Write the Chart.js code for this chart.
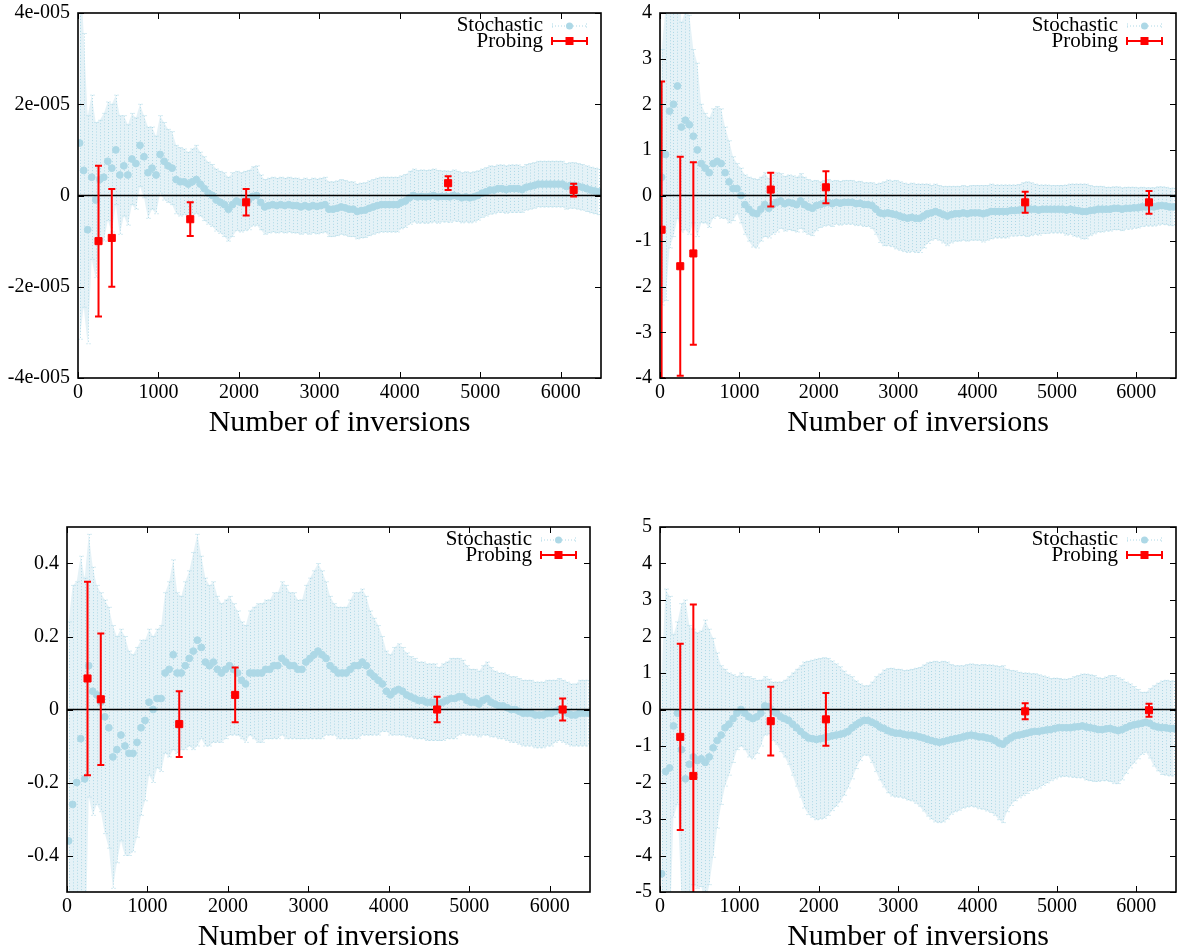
<!DOCTYPE html>
<html><head><meta charset="utf-8">
<script src="https://cdn.jsdelivr.net/npm/chart.js@4.4.0/dist/chart.umd.min.js"></script>
<style>
html,body{margin:0;padding:0;background:#fff;width:1182px;height:949px;overflow:hidden;position:relative}
.p{position:absolute}
canvas{display:block}
</style></head><body>
<div class="p" style="left:0;top:0"><canvas id="c1" width="610" height="438"></canvas></div>
<div class="p" style="left:590px;top:0"><canvas id="c2" width="592" height="438"></canvas></div>
<div class="p" style="left:0;top:500px"><canvas id="c3" width="600" height="452"></canvas></div>
<div class="p" style="left:590px;top:500px"><canvas id="c4" width="592" height="452"></canvas></div>
<script>
// ---------------- data ----------------
const xTicks = [0, 1000, 2000, 3000, 4000, 5000, 6000];
const xTickLabels = ['0', '1000', '2000', '3000', '4000', '5000', '6000'];
const xTitle = 'Number of inversions';
const seriesNames = ['Stochastic', 'Probing'];

// stochastic estimate: number of inversions at which each estimate was taken
const stochX = [
  20, 70, 120, 170, 220, 270, 320, 370, 420, 470,
  520, 570, 620, 670, 720, 770, 820, 870, 920, 970,
  1020, 1070, 1120, 1170, 1220, 1270, 1320, 1370, 1420, 1470,
  1520, 1570, 1620, 1670, 1720, 1770, 1820, 1870, 1920, 1970,
  2020, 2070, 2120, 2170, 2220, 2270, 2320, 2370, 2420, 2470,
  2520, 2570, 2620, 2670, 2720, 2770, 2820, 2870, 2920, 2970,
  3020, 3070, 3120, 3170, 3220, 3270, 3320, 3370, 3420, 3470,
  3520, 3570, 3620, 3670, 3720, 3770, 3820, 3870, 3920, 3970,
  4020, 4070, 4120, 4170, 4220, 4270, 4320, 4370, 4420, 4470,
  4520, 4570, 4620, 4670, 4720, 4770, 4820, 4870, 4920, 4970,
  5020, 5070, 5120, 5170, 5220, 5270, 5320, 5370, 5420, 5470,
  5520, 5570, 5620, 5670, 5720, 5770, 5820, 5870, 5920, 5970,
  6020, 6070, 6120, 6170, 6220, 6270, 6320, 6370, 6420, 6470
];
// probing estimates
const probX = [20, 255, 420, 1395, 2090, 4600, 6160];

// ---- panel 1 (values in units of 1e-5) ----
const p1Mean = [
  1.15, 0.55, -0.75, 0.4, -0.1, 0.35, 0.4, 0.75, 0.6, 1.0,
  0.45, 0.65, 0.45, 0.8, 0.7, 1.1, 0.85, 0.5, 0.6, 0.45,
  0.9, 0.75, 0.65, 0.6, 0.35, 0.3, 0.3, 0.25, 0.3, 0.35,
  0.25, 0.15, 0.05, 0.0, -0.1, -0.15, -0.2, -0.3, -0.2, -0.12,
  -0.15, -0.12, -0.1, -0.02, 0.0, -0.15, -0.25, -0.22, -0.2, -0.22,
  -0.2, -0.22, -0.2, -0.22, -0.22, -0.25, -0.22, -0.25, -0.22, -0.24,
  -0.22, -0.2, -0.3, -0.3, -0.28, -0.25, -0.27, -0.3, -0.3, -0.35,
  -0.33, -0.32, -0.28, -0.25, -0.22, -0.2, -0.2, -0.2, -0.2, -0.2,
  -0.15, -0.12, -0.05, 0.0, -0.03, -0.02, -0.03, -0.02, 0.0, -0.03,
  -0.02, -0.02, -0.03, 0.0, -0.02, -0.05, -0.03, -0.05, -0.03, 0.0,
  0.05, 0.08, 0.12, 0.12, 0.15, 0.15, 0.13, 0.15, 0.15, 0.15,
  0.13, 0.18, 0.2, 0.22, 0.25, 0.25, 0.25, 0.25, 0.25, 0.25,
  0.25, 0.2, 0.22, 0.22, 0.2, 0.18, 0.15, 0.12, 0.1, 0.08
];
const p1Err = [
  4.3, 3.0, 2.5, 1.8, 1.7, 1.3, 1.4, 1.3, 1.4, 1.2,
  1.3, 1.1, 1.1, 1.0, 1.0, 0.9, 0.9, 1.0, 0.9, 0.85,
  0.85, 0.85, 0.8, 0.8, 0.75, 0.75, 0.72, 0.7, 0.72, 0.75,
  0.7, 0.7, 0.68, 0.68, 0.68, 0.68, 0.7, 0.7, 0.7, 0.65,
  0.65, 0.65, 0.65, 0.65, 0.65, 0.6, 0.6, 0.6, 0.6, 0.6,
  0.6, 0.6, 0.6, 0.6, 0.6, 0.6, 0.6, 0.6, 0.6, 0.6,
  0.6, 0.6, 0.6, 0.6, 0.6, 0.6, 0.6, 0.6, 0.6, 0.6,
  0.6, 0.6, 0.6, 0.6, 0.6, 0.6, 0.6, 0.6, 0.6, 0.6,
  0.58, 0.58, 0.58, 0.58, 0.58, 0.58, 0.58, 0.58, 0.58, 0.58,
  0.56, 0.56, 0.56, 0.56, 0.55, 0.55, 0.55, 0.55, 0.55, 0.54,
  0.53, 0.53, 0.53, 0.52, 0.52, 0.52, 0.52, 0.52, 0.52, 0.52,
  0.5, 0.5, 0.5, 0.5, 0.5, 0.5, 0.5, 0.5, 0.5, 0.5,
  0.5, 0.5, 0.5, 0.5, 0.5, 0.5, 0.5, 0.5, 0.5, 0.5
];
const p1ProbMean = [null, -1.0, -0.93, -0.52, -0.15, 0.27, 0.12];
const p1ProbErr = [null, 1.65, 1.07, 0.37, 0.29, 0.15, 0.14];
const p1YTicks = [-4, -2, 0, 2, 4];
const p1YTickLabels = ['-4e-005', '-2e-005', '0', '2e-005', '4e-005'];

// ---- panel 2 ----
const p2Mean = [
  0.4, 0.9, 1.85, 2.0, 2.4, 1.5, 1.65, 1.55, 1.3, 1.0,
  0.7, 0.6, 0.5, 0.7, 0.75, 0.7, 0.5, 0.3, 0.15, 0.15,
  0.0, -0.2, -0.3, -0.38, -0.4, -0.3, -0.2, -0.28, -0.2, -0.15,
  -0.12, -0.18, -0.15, -0.17, -0.2, -0.12, -0.2, -0.25, -0.28, -0.22,
  -0.2, -0.17, -0.15, -0.18, -0.15, -0.17, -0.15, -0.15, -0.15, -0.18,
  -0.17, -0.2, -0.2, -0.22, -0.3, -0.38, -0.4, -0.38, -0.4, -0.42,
  -0.45, -0.48, -0.5, -0.48, -0.5, -0.5, -0.45, -0.4, -0.38, -0.35,
  -0.38, -0.42, -0.45, -0.42, -0.4, -0.4, -0.38, -0.4, -0.38, -0.38,
  -0.38, -0.4, -0.38, -0.35, -0.35, -0.35, -0.35, -0.35, -0.33, -0.33,
  -0.32, -0.3, -0.3, -0.3, -0.3, -0.32, -0.3, -0.3, -0.3, -0.3,
  -0.3, -0.3, -0.32, -0.3, -0.32, -0.33, -0.35, -0.35, -0.33, -0.32,
  -0.3, -0.3, -0.3, -0.3, -0.28, -0.28, -0.3, -0.28, -0.28, -0.27,
  -0.27, -0.25, -0.25, -0.25, -0.25, -0.23, -0.22, -0.23, -0.25, -0.25
];
const p2Err = [
  2.8, 3.2, 3.0, 2.9, 2.9, 2.3, 2.4, 2.4, 1.9, 1.9,
  1.3, 1.2, 1.2, 1.2, 1.2, 1.2, 1.0, 0.9, 0.7, 0.55,
  0.6, 0.65, 0.7, 0.75, 0.75, 0.7, 0.7, 0.65, 0.65, 0.65,
  0.6, 0.6, 0.6, 0.6, 0.6, 0.6, 0.6, 0.6, 0.6, 0.55,
  0.5, 0.5, 0.5, 0.5, 0.48, 0.48, 0.48, 0.48, 0.48, 0.48,
  0.48, 0.48, 0.48, 0.5, 0.55, 0.65, 0.7, 0.72, 0.72, 0.75,
  0.75, 0.75, 0.75, 0.75, 0.75, 0.75, 0.7, 0.65, 0.6, 0.6,
  0.6, 0.62, 0.65, 0.62, 0.6, 0.6, 0.6, 0.6, 0.6, 0.6,
  0.6, 0.62, 0.6, 0.6, 0.58, 0.58, 0.58, 0.58, 0.56, 0.56,
  0.56, 0.58, 0.6, 0.58, 0.55, 0.55, 0.53, 0.53, 0.52, 0.52,
  0.52, 0.52, 0.55, 0.55, 0.57, 0.58, 0.6, 0.6, 0.55, 0.52,
  0.5, 0.5, 0.48, 0.48, 0.47, 0.47, 0.47, 0.46, 0.46, 0.45,
  0.44, 0.43, 0.42, 0.42, 0.42, 0.42, 0.41, 0.41, 0.41, 0.41
];
const p2ProbMean = [-0.75, -1.55, -1.27, 0.13, 0.18, -0.15, -0.15];
const p2ProbErr = [3.25, 2.4, 2.0, 0.37, 0.35, 0.23, 0.25];
const p2YTicks = [-4, -3, -2, -1, 0, 1, 2, 3, 4];
const p2YTickLabels = ['-4', '-3', '-2', '-1', '0', '1', '2', '3', '4'];

// ---- panel 3 ----
const p3Mean = [
  -0.36, -0.26, -0.2, -0.08, -0.19, 0.12, 0.05, 0.04, 0.02, -0.02,
  -0.05, -0.13, -0.11, -0.07, -0.1, -0.12, -0.12, -0.09, -0.05, -0.03,
  0.02, 0.0, 0.03, 0.03, 0.1, 0.11, 0.15, 0.1, 0.1, 0.12,
  0.14, 0.16, 0.19, 0.17, 0.13, 0.12, 0.13, 0.11, 0.1, 0.11,
  0.12, 0.11, 0.1, 0.08, 0.07, 0.1, 0.1, 0.1, 0.1, 0.11,
  0.11, 0.12, 0.12, 0.14, 0.13, 0.12, 0.12, 0.11, 0.11, 0.13,
  0.14, 0.15, 0.16, 0.15, 0.14, 0.12, 0.11, 0.1, 0.1, 0.1,
  0.11, 0.12, 0.12, 0.13, 0.12, 0.1, 0.09, 0.08, 0.07, 0.05,
  0.04, 0.05, 0.055, 0.05, 0.04, 0.035, 0.03, 0.025, 0.025, 0.02,
  0.02, 0.02, 0.015, 0.02, 0.025, 0.03, 0.03, 0.035, 0.035, 0.025,
  0.02, 0.02, 0.015, 0.025, 0.03, 0.02, 0.015, 0.01, 0.01, 0.005,
  0.0, 0.0, -0.005, -0.01, -0.01, -0.01, -0.015, -0.015, -0.015, -0.01,
  -0.01, -0.005, 0.0, -0.005, -0.01, -0.015, -0.015, -0.01, -0.01, -0.01
];
const p3Err = [
  0.6, 0.6, 0.55, 0.5, 0.55, 0.36, 0.34, 0.3, 0.3, 0.32,
  0.33, 0.36, 0.31, 0.29, 0.3, 0.28, 0.27, 0.26, 0.24, 0.22,
  0.2, 0.2, 0.19, 0.2, 0.22, 0.24, 0.26, 0.22, 0.21, 0.23,
  0.24, 0.27, 0.29, 0.25, 0.23, 0.22, 0.22, 0.2, 0.19, 0.19,
  0.19, 0.18, 0.17, 0.16, 0.16, 0.17, 0.18, 0.19, 0.19, 0.19,
  0.19, 0.2, 0.2, 0.21, 0.21, 0.2, 0.2, 0.19, 0.19, 0.21,
  0.22, 0.23, 0.24, 0.23, 0.21, 0.19, 0.18, 0.18, 0.18, 0.18,
  0.19, 0.2, 0.2, 0.2, 0.19, 0.17, 0.16, 0.15, 0.13, 0.11,
  0.11, 0.12, 0.125, 0.12, 0.115, 0.11, 0.11, 0.105, 0.105, 0.105,
  0.105, 0.105, 0.1, 0.105, 0.105, 0.11, 0.11, 0.105, 0.1, 0.095,
  0.09, 0.09, 0.09, 0.095, 0.1, 0.095, 0.09, 0.09, 0.09, 0.09,
  0.09, 0.09, 0.09, 0.09, 0.09, 0.09, 0.09, 0.09, 0.09, 0.09,
  0.09, 0.085, 0.085, 0.085, 0.085, 0.085, 0.085, 0.09, 0.09, 0.09
];
const p3ProbMean = [null, 0.085, 0.028, -0.04, 0.04, 0.0, 0.0];
const p3ProbErr = [null, 0.265, 0.18, 0.09, 0.075, 0.035, 0.03];
const p3YTicks = [-0.4, -0.2, 0, 0.2, 0.4];
const p3YTickLabels = ['-0.4', '-0.2', '0', '0.2', '0.4'];

// ---- panel 4 ----
const p4Mean = [
  -4.5, -1.7, -1.6, -0.45, -0.1, -1.1, -1.9, -1.5, -1.3, -1.4,
  -1.35, -1.45, -1.3, -1.05, -0.85, -0.7, -0.5, -0.4, -0.25, -0.1,
  0.0, -0.1, -0.2, -0.25, -0.2, -0.1, 0.1, 0.08, -0.05, -0.1,
  -0.2, -0.25, -0.3, -0.4, -0.5, -0.6, -0.7, -0.78, -0.8, -0.82,
  -0.8, -0.78, -0.75, -0.72, -0.7, -0.68, -0.65, -0.6, -0.5, -0.42,
  -0.35, -0.3, -0.3, -0.35, -0.4, -0.48, -0.52, -0.58, -0.62, -0.65,
  -0.65, -0.68, -0.7, -0.7, -0.72, -0.75, -0.78, -0.82, -0.85, -0.88,
  -0.9, -0.88, -0.85, -0.82, -0.8, -0.78, -0.75, -0.72, -0.7, -0.72,
  -0.75, -0.75, -0.78, -0.8, -0.85, -0.92, -0.95, -0.85, -0.78, -0.72,
  -0.7, -0.68, -0.65, -0.62, -0.6, -0.6, -0.58, -0.56, -0.55, -0.52,
  -0.5, -0.5, -0.5, -0.5, -0.48, -0.47, -0.45, -0.48, -0.5, -0.52,
  -0.55, -0.55, -0.53, -0.52, -0.55, -0.58, -0.55, -0.5, -0.45, -0.42,
  -0.4, -0.38, -0.35, -0.38, -0.45, -0.48, -0.5, -0.5, -0.52, -0.52
];
const p4Err = [
  5.5, 5.0, 4.7, 2.5, 2.5, 4.0, 4.9, 3.8, 3.5, 3.5,
  3.5, 3.9, 3.5, 3.0, 2.4, 1.9, 1.6, 1.4, 1.2, 1.0,
  1.0, 1.0, 1.1, 1.1, 1.0, 0.9, 0.8, 0.75, 0.8, 0.85,
  0.95, 1.05, 1.2, 1.4, 1.6, 1.8, 2.0, 2.1, 2.15, 2.2,
  2.2, 2.2, 2.15, 2.05, 1.95, 1.85, 1.7, 1.55, 1.4, 1.2,
  1.05, 0.95, 0.95, 1.1, 1.3, 1.45, 1.6, 1.7, 1.75, 1.75,
  1.75, 1.75, 1.78, 1.8, 1.85, 1.9, 2.0, 2.1, 2.15, 2.2,
  2.2, 2.2, 2.15, 2.05, 2.0, 1.98, 1.95, 1.95, 1.95, 1.95,
  1.97, 1.98, 2.0, 2.02, 2.05, 2.1, 2.15, 1.95, 1.85, 1.78,
  1.72, 1.68, 1.65, 1.6, 1.58, 1.55, 1.5, 1.45, 1.4, 1.38,
  1.35, 1.33, 1.33, 1.35, 1.38, 1.4, 1.42, 1.45, 1.45, 1.45,
  1.42, 1.4, 1.42, 1.45, 1.48, 1.45, 1.38, 1.25, 1.15, 1.05,
  0.95, 0.85, 0.82, 0.95, 1.1, 1.2, 1.28, 1.3, 1.3, 1.3
];
const p4ProbMean = [null, -0.75, -1.82, -0.32, -0.27, -0.05, -0.02];
const p4ProbErr = [null, 2.55, 4.7, 0.94, 0.72, 0.22, 0.18];
const p4YTicks = [-5, -4, -3, -2, -1, 0, 1, 2, 3, 4, 5];
const p4YTickLabels = ['-5', '-4', '-3', '-2', '-1', '0', '1', '2', '3', '4', '5'];

// ---------------- styles ----------------
const FONT = "'Liberation Serif', 'Times New Roman', serif";
const STOCH_COLOR = '#add8e6';
const PROB_COLOR = '#ff0000';

function buildChart(id, cfg) {
  const stochPts = stochX.map((x, i) => ({x: x, y: cfg.mean[i]}));
  const upPts = stochX.map((x, i) => ({x: x, y: cfg.mean[i] + cfg.err[i]}));
  const loPts = stochX.map((x, i) => ({x: x, y: cfg.mean[i] - cfg.err[i]}));
  const probPts = [], probErrs = [];
  probX.forEach((x, i) => {
    if (cfg.probMean[i] !== null) { probPts.push({x: x, y: cfg.probMean[i]}); probErrs.push(cfg.probErr[i]); }
  });

  const decor = {
    id: 'decor' + id,
    beforeDatasetDraw(chart, args) {
      const ctx = chart.ctx, a = chart.chartArea;
      const xs = chart.scales.x, ys = chart.scales.y;
      if (args.index === 1) {
        ctx.save();
        ctx.beginPath(); ctx.rect(a.left, a.top, a.right - a.left, a.bottom - a.top); ctx.clip();
        ctx.strokeStyle = STOCH_COLOR; ctx.lineWidth = 1; ctx.setLineDash([1, 2]);
        stochX.forEach((x, i) => {
          const px = Math.round(xs.getPixelForValue(x)) + 0.5;
          const y1 = ys.getPixelForValue(cfg.mean[i] + cfg.err[i]);
          const y2 = ys.getPixelForValue(cfg.mean[i] - cfg.err[i]);
          ctx.beginPath(); ctx.moveTo(px, y1); ctx.lineTo(px, y2); ctx.stroke();
          ctx.beginPath(); ctx.moveTo(px - 2, y1); ctx.lineTo(px + 2, y1);
          ctx.moveTo(px - 2, y2); ctx.lineTo(px + 2, y2); ctx.stroke();
        });
        ctx.restore();
      }
      if (args.index === 0) {
        ctx.save();
        ctx.beginPath(); ctx.rect(a.left, a.top, a.right - a.left, a.bottom - a.top); ctx.clip();
        const y0 = ys.getPixelForValue(0);
        ctx.strokeStyle = '#000'; ctx.lineWidth = 1.5;
        ctx.beginPath(); ctx.moveTo(a.left, y0); ctx.lineTo(a.right, y0); ctx.stroke();
        ctx.strokeStyle = PROB_COLOR; ctx.lineWidth = 2;
        probPts.forEach((p, i) => {
          const px = xs.getPixelForValue(p.x);
          const y1 = ys.getPixelForValue(p.y + probErrs[i]);
          const y2 = ys.getPixelForValue(p.y - probErrs[i]);
          ctx.beginPath(); ctx.moveTo(px, y1); ctx.lineTo(px, y2);
          ctx.moveTo(px - 3.5, y1); ctx.lineTo(px + 3.5, y1);
          ctx.moveTo(px - 3.5, y2); ctx.lineTo(px + 3.5, y2);
          ctx.stroke();
        });
        ctx.restore();
      }
    },
    afterDraw(chart) {
      const ctx = chart.ctx, a = chart.chartArea;
      const xs = chart.scales.x, ys = chart.scales.y;
      ctx.save();
      ctx.strokeStyle = '#000'; ctx.lineWidth = 1;
      ctx.beginPath();
      xTicks.forEach(v => {
        const px = Math.round(xs.getPixelForValue(v)) + 0.5;
        ctx.moveTo(px, a.bottom); ctx.lineTo(px, a.bottom - 6);
        ctx.moveTo(px, a.top); ctx.lineTo(px, a.top + 6);
      });
      cfg.yTicks.forEach(v => {
        const py = Math.round(ys.getPixelForValue(v)) + 0.5;
        ctx.moveTo(a.left, py); ctx.lineTo(a.left + 6, py);
        ctx.moveTo(a.right, py); ctx.lineTo(a.right - 6, py);
      });
      ctx.stroke();
      ctx.lineWidth = 1.6;
      ctx.strokeRect(a.left, a.top, a.right - a.left, a.bottom - a.top);
      // key
      ctx.font = '21px ' + FONT; ctx.fillStyle = '#000';
      ctx.textAlign = 'right'; ctx.textBaseline = 'middle';
      const tx = a.right - 58, sx1 = a.right - 49, sx2 = a.right - 14, sxm = (sx1 + sx2) / 2;
      const r1 = a.top + 12.5, r2 = a.top + 28;
      ctx.fillText(seriesNames[0], tx, r1);
      ctx.fillText(seriesNames[1], tx, r2);
      ctx.strokeStyle = STOCH_COLOR; ctx.lineWidth = 1; ctx.setLineDash([1, 2]);
      ctx.beginPath(); ctx.moveTo(sx1, r1 + 0.5); ctx.lineTo(sx2, r1 + 0.5);
      ctx.moveTo(sx1 + 0.5, r1 - 2); ctx.lineTo(sx1 + 0.5, r1 + 3);
      ctx.moveTo(sx2 - 0.5, r1 - 2); ctx.lineTo(sx2 - 0.5, r1 + 3); ctx.stroke();
      ctx.setLineDash([]);
      ctx.fillStyle = STOCH_COLOR; ctx.beginPath(); ctx.arc(sxm, r1 + 0.5, 3.5, 0, Math.PI * 2); ctx.fill();
      ctx.strokeStyle = PROB_COLOR; ctx.lineWidth = 2;
      ctx.beginPath(); ctx.moveTo(sx1, r2); ctx.lineTo(sx2, r2);
      ctx.moveTo(sx1, r2 - 4); ctx.lineTo(sx1, r2 + 4);
      ctx.moveTo(sx2, r2 - 4); ctx.lineTo(sx2, r2 + 4); ctx.stroke();
      ctx.fillStyle = PROB_COLOR; ctx.fillRect(sxm - 4, r2 - 4, 8, 8);
      ctx.restore();
    }
  };

  return new Chart(document.getElementById(id), {
    type: 'scatter',
    data: {
      datasets: [
        {label: seriesNames[1], data: probPts, pointStyle: 'rect', pointRadius: 5, borderWidth: 1,
         backgroundColor: PROB_COLOR, borderColor: PROB_COLOR, order: 0},
        {label: seriesNames[0], data: stochPts, pointStyle: 'circle', pointRadius: 3.4, borderWidth: 1,
         backgroundColor: STOCH_COLOR, borderColor: STOCH_COLOR, order: 1},
        {label: 'upper', type: 'line', data: upPts, pointRadius: 0, borderWidth: 0, borderColor: 'rgba(0,0,0,0)',
         fill: false, tension: 0, order: 2},
        {label: 'lower', type: 'line', data: loPts, pointRadius: 0, borderWidth: 0, borderColor: 'rgba(0,0,0,0)',
         fill: '-1', backgroundColor: 'rgba(173,216,230,0.32)', tension: 0, order: 3}
      ]
    },
    options: {
      responsive: false, animation: false, devicePixelRatio: 1,
      layout: {padding: {left: 0, top: cfg.padTop, right: cfg.padRight, bottom: 0}},
      plugins: {legend: {display: false}, tooltip: {enabled: false}},
      scales: {
        x: {
          type: 'linear', min: 0, max: 6500,
          afterBuildTicks: s => { s.ticks = xTicks.map(v => ({value: v})); },
          afterFit: s => { s.height = cfg.xHeight; },
          ticks: {callback: (v, i) => xTickLabels[i], font: {family: FONT, size: 20}, color: '#000', padding: 3,
                  maxRotation: 0, autoSkip: false},
          grid: {display: false, drawTicks: false},
          border: {display: false},
          title: {display: true, text: xTitle, font: {family: FONT, size: 30, lineHeight: 1}, color: '#000', padding: 0}
        },
        y: {
          type: 'linear', min: cfg.yMin, max: cfg.yMax,
          afterBuildTicks: s => { s.ticks = cfg.yTicks.map(v => ({value: v})); },
          afterFit: s => { s.width = cfg.yWidth; },
          ticks: {callback: (v, i) => cfg.yTickLabels[i], font: {family: FONT, size: 20, lineHeight: 0.5},
                  color: '#000', padding: 8},
          grid: {display: false, drawTicks: false},
          border: {display: false}
        }
      }
    },
    plugins: [decor]
  });
}

buildChart('c1', {mean: p1Mean, err: p1Err, probMean: p1ProbMean, probErr: p1ProbErr,
  yMin: -4, yMax: 4, yTicks: p1YTicks, yTickLabels: p1YTickLabels, yWidth: 78, padTop: 13, padRight: 9, xHeight: 60});
buildChart('c2', {mean: p2Mean, err: p2Err, probMean: p2ProbMean, probErr: p2ProbErr,
  yMin: -4, yMax: 4, yTicks: p2YTicks, yTickLabels: p2YTickLabels, yWidth: 70, padTop: 13, padRight: 1, xHeight: 60});
buildChart('c3', {mean: p3Mean, err: p3Err, probMean: p3ProbMean, probErr: p3ProbErr,
  yMin: -0.5, yMax: 0.5, yTicks: p3YTicks, yTickLabels: p3YTickLabels, yWidth: 67, padTop: 27, padRight: 10, xHeight: 60});
buildChart('c4', {mean: p4Mean, err: p4Err, probMean: p4ProbMean, probErr: p4ProbErr,
  yMin: -5, yMax: 5, yTicks: p4YTicks, yTickLabels: p4YTickLabels, yWidth: 70, padTop: 27, padRight: 1, xHeight: 60});
</script>
</body></html>
